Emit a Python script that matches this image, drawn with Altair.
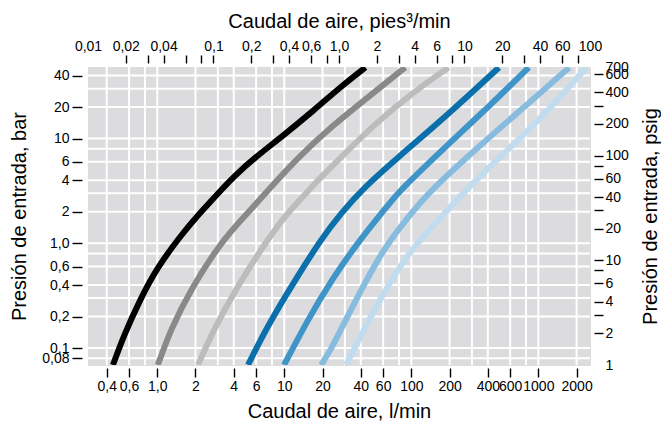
import altair as alt
import pandas as pd

FONT = "Liberation Sans"

# --- curves (flow in l/min, inlet pressure in bar) ---
series_names = ["c1", "c2", "c3", "c4", "c5", "c6", "c7"]
series_colors = ["#000000", "#898989", "#bcbcbc", "#0a6faa", "#3f94c8", "#87bcde", "#c0dcee"]

c1_flow = [0.448, 0.547, 0.718, 0.978, 1.54, 2.13, 2.96, 4.10, 5.78, 9.43, 17.1, 28.0, 43.5]
c1_bar = [0.069, 0.133, 0.275, 0.567, 1.20, 1.90, 2.94, 4.47, 6.48, 10.3, 18.6, 31.5, 47.8]

c2_flow = [1.01, 1.28, 1.84, 3.18, 4.82, 7.45, 12.8, 24.7, 42.5, 89.5]
c2_bar = [0.069, 0.152, 0.366, 1.03, 1.78, 3.21, 6.63, 13.7, 23.2, 47.8]

c3_flow = [2.09, 2.80, 4.32, 7.45, 9.96, 12.8, 17.1, 23.4, 50.9, 103, 196]
c3_bar = [0.069, 0.152, 0.399, 1.10, 1.78, 2.47, 3.66, 5.32, 13.7, 27.6, 47.8]

c4_flow = [5.18, 7.45, 11.9, 19.5, 28.0, 42.5, 78.6, 195, 490]
c4_bar = [0.069, 0.166, 0.426, 1.10, 1.94, 3.43, 6.63, 17.0, 47.8]

c5_flow = [9.96, 15.4, 23.8, 38.1, 65.6, 78.6, 195, 402, 840]
c5_bar = [0.069, 0.189, 0.455, 1.03, 2.31, 3.07, 8.82, 19.9, 47.8]

c6_flow = [19.5, 23.4, 28.0, 36.0, 57.8, 94.3, 119, 143, 354, 772, 1750]
c6_bar = [0.069, 0.098, 0.152, 0.275, 0.824, 1.78, 2.47, 3.21, 8.82, 19.9, 47.8]

c7_flow = [30.6, 54.7, 94.3, 172, 295, 693, 1193, 2400]
c7_bar = [0.069, 0.275, 0.824, 1.78, 3.66, 9.63, 18.6, 47.8]

# --- grid lines ---
lmin_grid = [0.4, 0.6, 0.8, 1, 2, 3, 4, 6, 8, 10, 20, 30, 40, 60, 80, 100, 200, 300,
             400, 600, 800, 1000, 2000]
bar_grid = [0.08, 0.1, 0.2, 0.3, 0.4, 0.6, 0.8, 1, 2, 3, 4, 6, 8, 10, 20, 30, 40]

# --- axis tick values ---
lmin_ticks = [0.4, 0.6, 1, 2, 4, 6, 10, 20, 40, 60, 100, 200, 400, 600, 1000, 2000]
bar_ticks = [0.08, 0.1, 0.2, 0.4, 0.6, 1, 2, 4, 6, 10, 20, 40]

cfm_ticks = [0.01, 0.02, 0.03, 0.04, 0.06, 0.08, 0.1, 0.2, 0.3, 0.4, 0.6, 0.8, 1, 2, 3,
             4, 6, 8, 10, 20, 30, 40, 60, 80, 100]
cfm_unlabeled = [0.03, 0.06, 0.08, 0.3, 0.8, 3, 8, 30, 80]
cfm_notick = [0.01, 100]

psig_ticks = [1, 2, 3, 4, 6, 8, 10, 20, 30, 40, 60, 80, 100, 200, 300, 400, 600, 700]
psig_unlabeled = [3, 8, 30, 80, 300]
psig_notick = [1, 700]

lmin_domain = [0.285, 2550]
bar_domain = [0.06895, 48.26]
cfm_domain = [0.01, 100]
psig_domain = [1, 700]

flows = [c1_flow, c2_flow, c3_flow, c4_flow, c5_flow, c6_flow, c7_flow]
bars = [c1_bar, c2_bar, c3_bar, c4_bar, c5_bar, c6_bar, c7_bar]
rows = []
for name, fl, br in zip(series_names, flows, bars):
    for i, (f, b) in enumerate(zip(fl, br)):
        rows.append({"serie": name, "flow": f, "bar": b, "i": i})
df = pd.DataFrame(rows)


def arr(vals):
    return "[" + ",".join(repr(v) for v in vals) + "]"


def label_expr(unlabeled, one_text="1,0"):
    base = "(datum.value == 1 ? '" + one_text + "' : replace(toString(datum.value), '.', ','))"
    if not unlabeled:
        return base
    return "indexof(" + arr(unlabeled) + ", datum.value) >= 0 ? '' : " + base


def tick_op(hidden):
    return {"condition": {"test": "indexof(" + arr(hidden) + ", datum.value) >= 0", "value": 0},
            "value": 1}


common = dict(
    domain=False, grid=False, tickColor="black", tickWidth=1.4, labelFontSize=14,
    labelColor="black", labelFont=FONT, labelOverlap=False, labelFlush=False,
    titleFontSize=20, titleFontWeight="normal", titleFont=FONT, titleColor="black",
)

x_axis = alt.Axis(orient="bottom", values=lmin_ticks, labelExpr=label_expr([]),
                  tickSize=9, offset=3, labelPadding=2,
                  title="Caudal de aire, l/min", titlePadding=8, **common)
y_axis = alt.Axis(orient="left", values=bar_ticks, labelExpr=label_expr([]),
                  tickSize=10, offset=6, labelPadding=3,
                  title="Presión de entrada, bar", titlePadding=12, **common)

x_scale = alt.Scale(type="log", domain=lmin_domain, nice=False)
y_scale = alt.Scale(type="log", domain=bar_domain, nice=False)

bg_df = pd.DataFrame({"flow": [lmin_domain[0]], "flow2": [lmin_domain[1]],
                      "bar": [bar_domain[0]], "bar2": [bar_domain[1]]})
bg = alt.Chart(bg_df).mark_rect(color="#dcdcde").encode(
    x=alt.X("flow:Q", scale=x_scale, axis=x_axis), x2="flow2:Q",
    y=alt.Y("bar:Q", scale=y_scale, axis=y_axis), y2="bar2:Q",
)

vgrid = alt.Chart(pd.DataFrame({"flow": lmin_grid})).mark_rule(
    color="#ffffff", strokeWidth=2).encode(x=alt.X("flow:Q", scale=x_scale, axis=x_axis))
hgrid = alt.Chart(pd.DataFrame({"bar": bar_grid})).mark_rule(
    color="#ffffff", strokeWidth=2).encode(y=alt.Y("bar:Q", scale=y_scale, axis=y_axis))

lines = alt.Chart(df).mark_line(strokeWidth=6, clip=True, interpolate="basis").encode(
    x=alt.X("flow:Q", scale=x_scale, axis=x_axis),
    y=alt.Y("bar:Q", scale=y_scale, axis=y_axis),
    color=alt.Color("serie:N", scale=alt.Scale(domain=series_names, range=series_colors),
                    legend=None),
    order="i:Q",
)

main = alt.layer(bg, vgrid, hgrid, lines)

ax_df = pd.DataFrame({"cfm": cfm_domain, "psig": psig_domain})
top_axis = alt.Axis(orient="top", values=cfm_ticks, labelExpr=label_expr(cfm_unlabeled),
                    tickOpacity=tick_op(cfm_notick), tickSize=8,
                    offset=4, labelPadding=2, title="Caudal de aire, pies³/min",
                    titlePadding=8, **common)
right_axis = alt.Axis(orient="right", values=psig_ticks,
                      labelExpr=label_expr(psig_unlabeled, one_text="1"),
                      tickOpacity=tick_op(psig_notick), tickSize=9, offset=4,
                      labelPadding=2, title="Presión de entrada, psig", titlePadding=12,
                      titleAngle=270, titleBaseline="top", **common)
overlay = alt.Chart(ax_df).mark_point(opacity=0).encode(
    x=alt.X("cfm:Q", scale=alt.Scale(type="log", domain=cfm_domain, nice=False), axis=top_axis),
    y=alt.Y("psig:Q", scale=alt.Scale(type="log", domain=psig_domain, nice=False), axis=right_axis),
)

chart = alt.layer(main, overlay).resolve_scale(x="independent", y="independent").properties(
    width=502, height=298, padding={"left": 1, "top": 3, "right": 0, "bottom": 0}
).configure_view(stroke=None).configure(background="white")

chart.save("out.html", embed_options={"renderer": "svg", "actions": False})
